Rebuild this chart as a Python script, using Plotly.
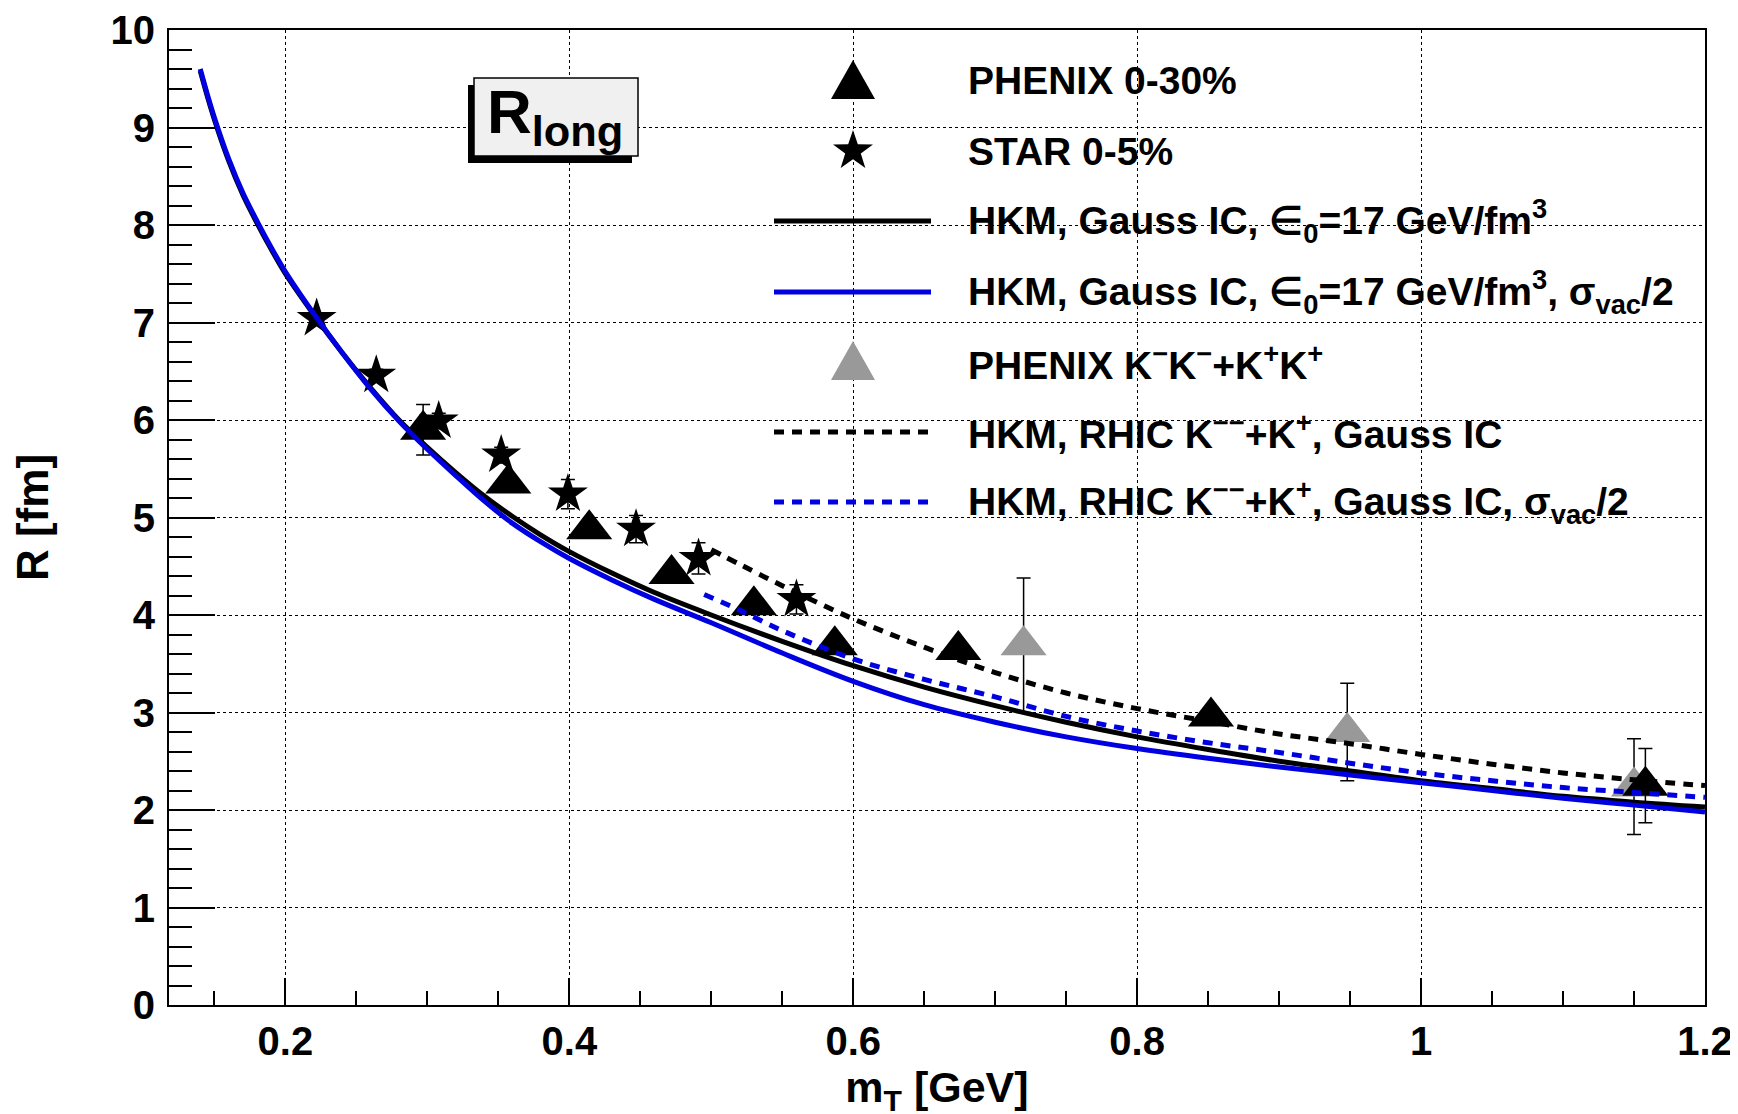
import math
import plotly.graph_objects as go

# ---------------- data ----------------
# PHENIX 0-30% (black full triangles)
phenix_x = [0.297, 0.357, 0.414, 0.472, 0.530, 0.587, 0.674, 0.852, 1.158]
phenix_y = [5.90, 5.35, 4.88, 4.42, 4.10, 3.69, 3.64, 2.96, 2.25]
phenix_err = [0.26, 0.0, 0.0, 0.0, 0.0, 0.0, 0.0, 0.0, 0.38]

# STAR 0-5% (black stars)
star_x = [0.222, 0.264, 0.308, 0.352, 0.399, 0.447, 0.491, 0.560]
star_y = [7.04, 6.46, 5.99, 5.64, 5.24, 4.88, 4.58, 4.16]
star_err = [0.06, 0.06, 0.08, 0.08, 0.15, 0.14, 0.16, 0.15]

# PHENIX K-K- + K+K+ (grey triangles)
kaon_x = [0.720, 0.948, 1.150]
kaon_y = [3.69, 2.80, 2.24]
kaon_err = [0.69, 0.50, 0.49]

# HKM, Gauss IC, eps0 = 17 GeV/fm3 (black solid)
hkm_x = [0.140, 0.145, 0.150, 0.160, 0.170, 0.180, 0.190, 0.200, 0.220, 0.240,
         0.260, 0.280, 0.300, 0.320, 0.340, 0.360, 0.380, 0.400, 0.430, 0.460,
         0.500, 0.550, 0.600, 0.650, 0.700, 0.750, 0.800, 0.850, 0.900, 0.950,
         1.000, 1.050, 1.100, 1.150, 1.200]
hkm_y = [9.58, 9.32, 9.08, 8.66, 8.31, 8.02, 7.75, 7.50, 7.08, 6.69,
         6.33, 6.00, 5.72, 5.46, 5.22, 5.01, 4.82, 4.65, 4.43, 4.23,
         4.00, 3.73, 3.48, 3.26, 3.07, 2.90, 2.75, 2.62, 2.50, 2.40,
         2.30, 2.22, 2.14, 2.08, 2.03]

# HKM, Gauss IC, eps0 = 17 GeV/fm3, sigma_vac/2 (blue solid)
hkm_half_x = hkm_x
hkm_half_y = [9.60, 9.34, 9.10, 8.68, 8.33, 8.04, 7.77, 7.52, 7.09, 6.69,
              6.32, 5.99, 5.70, 5.43, 5.17, 4.94, 4.75, 4.58, 4.36, 4.16,
              3.92, 3.61, 3.32, 3.08, 2.90, 2.75, 2.63, 2.53, 2.44, 2.36,
              2.28, 2.20, 2.12, 2.05, 1.98]

# HKM, RHIC K + K, Gauss IC (black dashed)
kk_x = [0.500, 0.520, 0.550, 0.600, 0.650, 0.700, 0.750, 0.800, 0.850,
        0.900, 0.950, 1.000, 1.050, 1.100, 1.150, 1.200]
kk_y = [4.67, 4.52, 4.30, 3.96, 3.67, 3.41, 3.20, 3.04, 2.91,
        2.78, 2.68, 2.57, 2.47, 2.38, 2.31, 2.25]

# HKM, RHIC K + K, Gauss IC, sigma_vac/2 (blue dashed)
kk_half_x = [0.495, 0.520, 0.550, 0.600, 0.650, 0.700, 0.750, 0.800, 0.850,
             0.900, 0.950, 1.000, 1.050, 1.100, 1.150, 1.200]
kk_half_y = [4.21, 4.05, 3.84, 3.55, 3.34, 3.16, 2.96, 2.81, 2.69,
             2.59, 2.48, 2.38, 2.30, 2.23, 2.18, 2.13]

legend_labels = [
    "PHENIX 0-30%",
    "STAR 0-5%",
    "HKM, Gauss IC, \u2208<sub>0</sub>=17 GeV/fm<sup>3</sup>",
    "HKM, Gauss IC, \u2208<sub>0</sub>=17 GeV/fm<sup>3</sup>, \u03c3<sub>vac</sub>/2",
    "PHENIX K<sup>\u2212</sup>K<sup>\u2212</sup>+K<sup>+</sup>K<sup>+</sup>",
    "HKM, RHIC K<sup>\u2212\u2212</sup>+K<sup>+</sup>, Gauss IC",
    "HKM, RHIC K<sup>\u2212\u2212</sup>+K<sup>+</sup>, Gauss IC, \u03c3<sub>vac</sub>/2",
]

# ---------------- styling ----------------
W, H = 1738, 1114
ML, MT = 161, 22
PW, PH = 1536, 975
MR, MB = W - ML - PW, H - MT - PH
BLUE = "#0000e0"
GREY = "#999999"
FONT = "Liberation Sans"
DASH = "10px,8px"


# layout helpers: convert reference-picture pixel positions to paper fractions
def pxx(px):
    return (px - 7 - ML) / PW


def pxy(py):
    return (MT + PH - (py - 9)) / PH


fig = go.Figure()

err_style = dict(type="data", visible=True, color="black", thickness=1.5, width=7)

fig.add_trace(go.Scatter(
    x=kaon_x, y=kaon_y, mode="markers", name=legend_labels[4],
    marker=dict(symbol="triangle-up", size=40, color=GREY, line=dict(width=0)),
    error_y=dict(array=kaon_err, **err_style)))
fig.add_trace(go.Scatter(
    x=phenix_x, y=phenix_y, mode="markers", name=legend_labels[0],
    marker=dict(symbol="triangle-up", size=40, color="black", line=dict(width=0)),
    error_y=dict(array=phenix_err, **err_style)))
fig.add_trace(go.Scatter(
    x=star_x, y=star_y, mode="markers", name=legend_labels[1],
    marker=dict(symbol="star", size=30, color="black", line=dict(width=0)),
    error_y=dict(array=star_err, **err_style)))

fig.add_trace(go.Scatter(x=hkm_x, y=hkm_y, mode="lines", name=legend_labels[2],
                         line=dict(color="black", width=5, shape="spline")))
fig.add_trace(go.Scatter(x=hkm_half_x, y=hkm_half_y, mode="lines", name=legend_labels[3],
                         line=dict(color=BLUE, width=5, shape="spline")))
fig.add_trace(go.Scatter(x=kk_x, y=kk_y, mode="lines", name=legend_labels[5],
                         line=dict(color="black", width=5, dash=DASH, shape="spline")))
fig.add_trace(go.Scatter(x=kk_half_x, y=kk_half_y, mode="lines", name=legend_labels[6],
                         line=dict(color=BLUE, width=5, dash=DASH, shape="spline")))

shapes = []
annotations = []

# legend background (hides grid lines behind the legend)
shapes.append(dict(type="rect", xref="paper", yref="paper",
                   x0=pxx(745), x1=pxx(1658), y0=pxy(545), y1=1.0,
                   fillcolor="white", line=dict(width=0), layer="between"))

# R_long label box with shadow
shapes.append(dict(type="rect", xref="paper", yref="paper",
                   x0=pxx(467), x1=pxx(631), y0=pxy(164), y1=pxy(86),
                   fillcolor="black", line=dict(width=0), layer="above"))
shapes.append(dict(type="rect", xref="paper", yref="paper",
                   x0=pxx(473), x1=pxx(637), y0=pxy(157), y1=pxy(79),
                   fillcolor="#f0f0f0", line=dict(width=1.5, color="black"), layer="above"))
annotations.append(dict(xref="paper", yref="paper", x=pxx(554), y=pxy(117),
                        xanchor="center", yanchor="middle", showarrow=False,
                        text="R<sub>long</sub>",
                        font=dict(family=FONT, size=62, color="black", weight="bold")))

# manual legend
row_y = [82, 152, 222, 293, 363, 433, 503]
mark_x = 852
line_x0, line_x1 = 773, 930
text_x = 965


def tri_path():
    return "M-22,-18 L22,-18 L0,21 Z"


def star_path(r_out=21, r_in=8.2):
    pts = []
    for i in range(10):
        a = math.pi / 2 + i * math.pi / 5
        r = r_out if i % 2 == 0 else r_in
        pts.append((r * math.cos(a), r * math.sin(a)))
    return "M" + " L".join(f"{x:.2f},{y:.2f}" for x, y in pts) + " Z"


kinds = [("tri", "black"), ("star", "black"), ("line", "black", "solid"),
         ("line", BLUE, "solid"), ("tri", GREY), ("line", "black", DASH),
         ("line", BLUE, DASH)]

for ry, kind, label in zip(row_y, kinds, legend_labels):
    if kind[0] in ("tri", "star"):
        shapes.append(dict(type="path", xref="paper", yref="paper",
                           xsizemode="pixel", ysizemode="pixel",
                           xanchor=pxx(mark_x), yanchor=pxy(ry),
                           path=tri_path() if kind[0] == "tri" else star_path(),
                           fillcolor=kind[1], line=dict(width=0), layer="above"))
    else:
        shapes.append(dict(type="line", xref="paper", yref="paper",
                           x0=pxx(line_x0), x1=pxx(line_x1), y0=pxy(ry), y1=pxy(ry),
                           line=dict(color=kind[1], width=5, dash=kind[2]), layer="above"))
    annotations.append(dict(xref="paper", yref="paper", x=pxx(text_x), y=pxy(ry),
                            xanchor="left", yanchor="middle", showarrow=False,
                            text=label,
                            font=dict(family=FONT, size=39, color="black", weight="bold")))

axis_common = dict(showline=True, linecolor="black", linewidth=2, mirror=True,
                   ticks="inside", tickcolor="black", tickwidth=2,
                   showgrid=True, gridcolor="black", gridwidth=1.3, griddash="dot",
                   zeroline=False, ticklabeloverflow="allow",
                   tickfont=dict(family=FONT, size=40, color="black", weight="bold"))

fig.update_layout(
    width=W, height=H, autosize=False,
    margin=dict(l=ML, r=MR, t=MT, b=MB, pad=0, autoexpand=False),
    plot_bgcolor="white", paper_bgcolor="white",
    showlegend=False,
    shapes=shapes, annotations=annotations,
    xaxis=dict(range=[0.118, 1.2], tick0=0, dtick=0.2, ticklen=27,
               minor=dict(dtick=0.05, tick0=0, ticks="inside", ticklen=14,
                          tickwidth=1.5, tickcolor="black", showgrid=False),
               ticklabelstandoff=0,
               title=dict(text="m<sub>T</sub> [GeV]", standoff=0,
                          font=dict(family=FONT, size=43, color="black", weight="bold")),
               **axis_common),
    yaxis=dict(range=[0, 10], tick0=0, dtick=1, ticklen=46,
               minor=dict(dtick=0.2, tick0=0, ticks="inside", ticklen=23,
                          tickwidth=1.5, tickcolor="black", showgrid=False),
               ticklabelstandoff=4,
               title=dict(text="R [fm]", standoff=50,
                          font=dict(family=FONT, size=44, color="black", weight="bold")),
               **axis_common),
)

fig.write_html("out.html")
